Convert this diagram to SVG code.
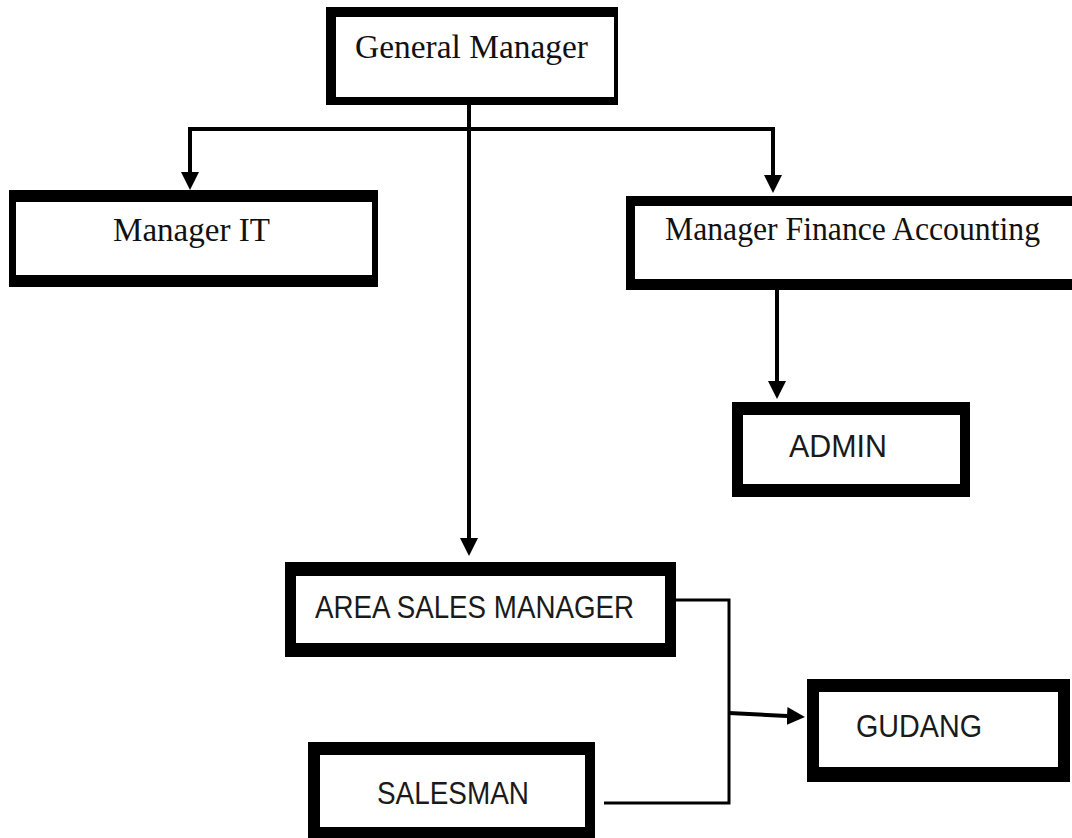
<svg xmlns="http://www.w3.org/2000/svg" width="1072" height="838" viewBox="0 0 1072 838">
  <style>
    .outer { fill: #000; }
    .inner { fill: #fff; }
    .serif { font-family: "Liberation Serif", "Times New Roman", serif; font-size: 34px; fill: #111; }
    .sans { font-family: "Liberation Sans", Arial, sans-serif; font-size: 32px; fill: #1a1a1a; }
    .conn { stroke: #000; stroke-width: 4; fill: none; stroke-linecap: square; }
    .thin { stroke-width: 3; }
  </style>
  <defs>
    <marker id="arrow" viewBox="0 0 18 18" refX="0" refY="9" markerWidth="18" markerHeight="18" markerUnits="userSpaceOnUse" orient="auto">
      <path d="M0,0 L18,9 L0,18 Z" fill="#000"/>
    </marker>
  </defs>
  <rect width="1072" height="838" fill="#fff"/>

  <g id="connectors">
    <line class="conn" x1="469" y1="105" x2="469" y2="538" marker-end="url(#arrow)"/>
    <line class="conn" x1="190" y1="129" x2="773" y2="129"/>
    <line class="conn" x1="190" y1="129" x2="190" y2="172" marker-end="url(#arrow)"/>
    <line class="conn" x1="773" y1="129" x2="773" y2="175" marker-end="url(#arrow)"/>
    <line class="conn" x1="777" y1="290" x2="777" y2="381" marker-end="url(#arrow)"/>
    <polyline class="conn thin" points="676,600 729,600 729,803 604,803" style="stroke-linecap:butt;stroke-linejoin:miter"/>
    <line class="conn" x1="729" y1="713" x2="787" y2="716" style="stroke-linecap:butt" marker-end="url(#arrow)"/>
  </g>

  <g id="general-manager">
    <rect class="outer" x="326" y="7" width="292" height="98"/>
    <rect class="inner" x="336" y="17" width="278" height="80"/>
    <text class="serif" x="355" y="58" textLength="233" lengthAdjust="spacingAndGlyphs">General Manager</text>
  </g>

  <g id="manager-it">
    <rect class="outer" x="9" y="190" width="369" height="97"/>
    <rect class="inner" x="16" y="202" width="356" height="73"/>
    <text class="serif" x="113" y="241" textLength="157" lengthAdjust="spacingAndGlyphs">Manager IT</text>
  </g>

  <g id="manager-finance-accounting">
    <rect class="outer" x="626" y="196" width="460" height="94"/>
    <rect class="inner" x="635" y="206" width="450" height="73"/>
    <text class="serif" x="665" y="240" textLength="375" lengthAdjust="spacingAndGlyphs" style="font-size:33px">Manager Finance Accounting</text>
  </g>

  <g id="admin">
    <rect class="outer" x="732" y="402" width="238" height="95"/>
    <rect class="inner" x="743" y="415" width="217" height="69"/>
    <text class="sans" x="789" y="457" textLength="98" lengthAdjust="spacingAndGlyphs">ADMIN</text>
  </g>

  <g id="area-sales-manager">
    <rect class="outer" x="285" y="562" width="391" height="95"/>
    <rect class="inner" x="296" y="576" width="369" height="67"/>
    <text class="sans" x="315" y="618" textLength="319" lengthAdjust="spacingAndGlyphs">AREA SALES MANAGER</text>
  </g>

  <g id="salesman">
    <rect class="outer" x="308" y="742" width="287" height="100"/>
    <rect class="inner" x="320" y="755" width="265" height="72"/>
    <text class="sans" x="377" y="804" textLength="152" lengthAdjust="spacingAndGlyphs">SALESMAN</text>
  </g>

  <g id="gudang">
    <rect class="outer" x="807" y="679" width="263" height="103"/>
    <rect class="inner" x="819" y="692" width="239" height="75"/>
    <text class="sans" x="856" y="737" textLength="126" lengthAdjust="spacingAndGlyphs">GUDANG</text>
  </g>
</svg>
